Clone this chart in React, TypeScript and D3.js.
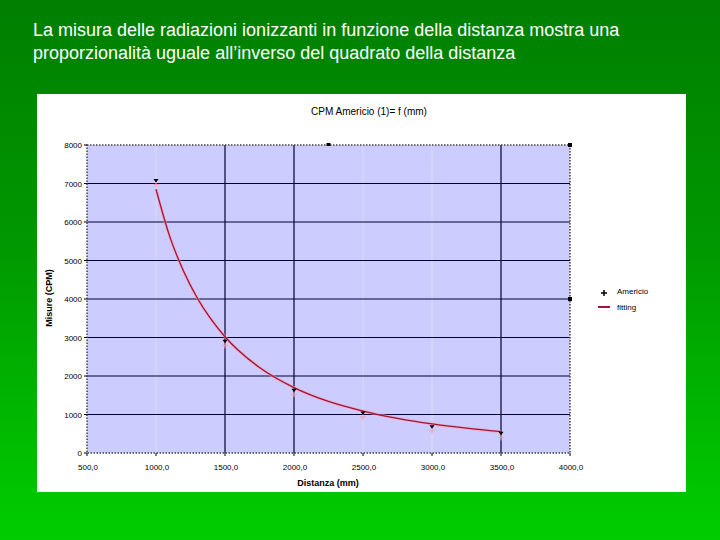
import React from "react";
import * as d3 from "d3";

const titleLines = [
  "La misura delle radiazioni ionizzanti in funzione della distanza mostra una",
  "proporzionalità uguale all’inverso del quadrato della distanza",
];
const chartTitle = "CPM Americio (1)=  f (mm)";
const xLabel = "Distanza (mm)";
const yLabel = "Misure (CPM)";

const measDist = [1000, 1500, 2000, 2500, 3000, 3500];
const measCpm = [7080, 2900, 1630, 1040, 680, 510];

const fitDist = [1000, 1100, 1200, 1300, 1400, 1500, 1750, 2000, 2250, 2500, 2750, 3000, 3250, 3500];
const fitCpm = [6850, 5620, 4720, 4020, 3470, 3020, 2220, 1700, 1340, 1090, 900, 755, 645, 555];

const xTicks = [500, 1000, 1500, 2000, 2500, 3000, 3500, 4000];
const xStrongGrid = [1500, 2000, 3500];
const xFaintGrid = [1000, 2500, 3000];
const yTicks = [0, 1000, 2000, 3000, 4000, 5000, 6000, 7000, 8000];

export default function App() {
  const W = 720, H = 540;
  const L = 87, R = 570, T = 145, B = 453;
  const x = d3.scaleLinear().domain([500, 4000]).range([L, R]);
  const y = d3.scaleLinear().domain([0, 8000]).range([B, T]);
  const fitPts: [number, number][] = fitDist.map((d, i) => [d, fitCpm[i]]);
  const line = d3
    .line<[number, number]>()
    .x((d) => x(d[0]))
    .y((d) => y(d[1]))
    .curve(d3.curveMonotoneX);
  const fmtX = (v: number) => v.toFixed(1).replace(".", ",");
  const font = "Arial, 'Liberation Sans', sans-serif";

  return (
    <svg
      width={W}
      height={H}
      style={{ position: "absolute", left: 0, top: 0 }}
      fontFamily={font}
    >
      <defs>
        <linearGradient id="bg" x1="0" y1="0" x2="0" y2="1">
          <stop offset="0" stopColor="#007e00" />
          <stop offset="0.45" stopColor="#009800" />
          <stop offset="0.9" stopColor="#00c400" />
          <stop offset="1" stopColor="#00cc00" />
        </linearGradient>
      </defs>
      <rect x={0} y={0} width={W} height={H} fill="url(#bg)" />
      {titleLines.map((t, i) => (
        <text key={i} x={33} y={36 + i * 23} fill="#ffffff" fontSize={18}>
          {t}
        </text>
      ))}
      <rect x={37} y={94} width={649} height={398} fill="#ffffff" />
      <rect x={L} y={T} width={R - L} height={B - T} fill="#ccccff" />
      {xFaintGrid.map((v) => (
        <line key={"f" + v} x1={x(v)} x2={x(v)} y1={T} y2={B} stroke="#dcdcf4" strokeWidth={1} />
      ))}
      {yTicks.slice(1, -1).map((v) => (
        <line key={"h" + v} x1={L} x2={R} y1={y(v)} y2={y(v)} stroke="#000033" strokeWidth={1.2} />
      ))}
      {xStrongGrid.map((v) => (
        <line key={"v" + v} x1={x(v)} x2={x(v)} y1={T} y2={B} stroke="#000033" strokeWidth={1.2} />
      ))}
      <rect
        x={L}
        y={T}
        width={R - L}
        height={B - T}
        fill="none"
        stroke="#444"
        strokeWidth={1.5}
        strokeDasharray="1.5,1.5"
      />
      {yTicks.map((v) => (
        <g key={"yt" + v}>
          <line x1={L - 3} x2={L} y1={y(v)} y2={y(v)} stroke="#000" />
          <text x={L - 5} y={y(v) + 3} textAnchor="end" fontSize={8} fill="#000">
            {String(v)}
          </text>
        </g>
      ))}
      {xTicks.map((v) => (
        <g key={"xt" + v}>
          <line x1={x(v)} x2={x(v)} y1={B} y2={B + 3} stroke="#000" />
          <text x={x(v) + 1} y={B + 17} textAnchor="middle" fontSize={8} fill="#000">
            {fmtX(v)}
          </text>
        </g>
      ))}
      <rect x={R - 2} y={T - 2} width={4} height={4} fill="#000" />
      <rect x={R - 2} y={y(4000) - 2} width={4} height={4} fill="#000" />
      <rect x={x(2250) - 2} y={T - 2} width={4} height={3} fill="#000" />
      <text x={369} y={115} textAnchor="middle" fontSize={10} fill="#000">
        {chartTitle}
      </text>
      <text x={328} y={486} textAnchor="middle" fontSize={9} fontWeight="bold" fill="#000">
        {xLabel}
      </text>
      <text
        transform={`translate(52,${298}) rotate(-90)`}
        textAnchor="middle"
        fontSize={9}
        fontWeight="bold"
        fill="#000"
      >
        {yLabel}
      </text>
      <path d={line(fitPts) || ""} fill="none" stroke="#ff9aa8" strokeWidth={3} opacity={0.6} />
      <path d={line(fitPts) || ""} fill="none" stroke="#a0153a" strokeWidth={1.3} />
      {measDist.map((d, i) => (
        <g key={"m" + i}>
          <path
            d={`M${x(d) - 3},${y(measCpm[i]) + 4}h6M${x(d)},${y(measCpm[i]) + 1}v6`}
            stroke="#f4a0b0"
            strokeWidth={1}
          />
          <path
            d={`M${x(d) - 2.5},${y(measCpm[i]) - 1.5}L${x(d) + 2.5},${y(measCpm[i]) - 1.5}L${x(d)},${y(measCpm[i]) + 2}Z`}
            fill="#000"
          />
        </g>
      ))}
      <path d="M601,293h6M604,290v6" stroke="#000" strokeWidth={1.5} />
      <text x={617} y={294} fontSize={8} fill="#000">
        Americio
      </text>
      <line x1={598} x2={610} y1={307} y2={307} stroke="#a0153a" strokeWidth={2} />
      <text x={617} y={310} fontSize={8} fill="#000">
        fitting
      </text>
    </svg>
  );
}
